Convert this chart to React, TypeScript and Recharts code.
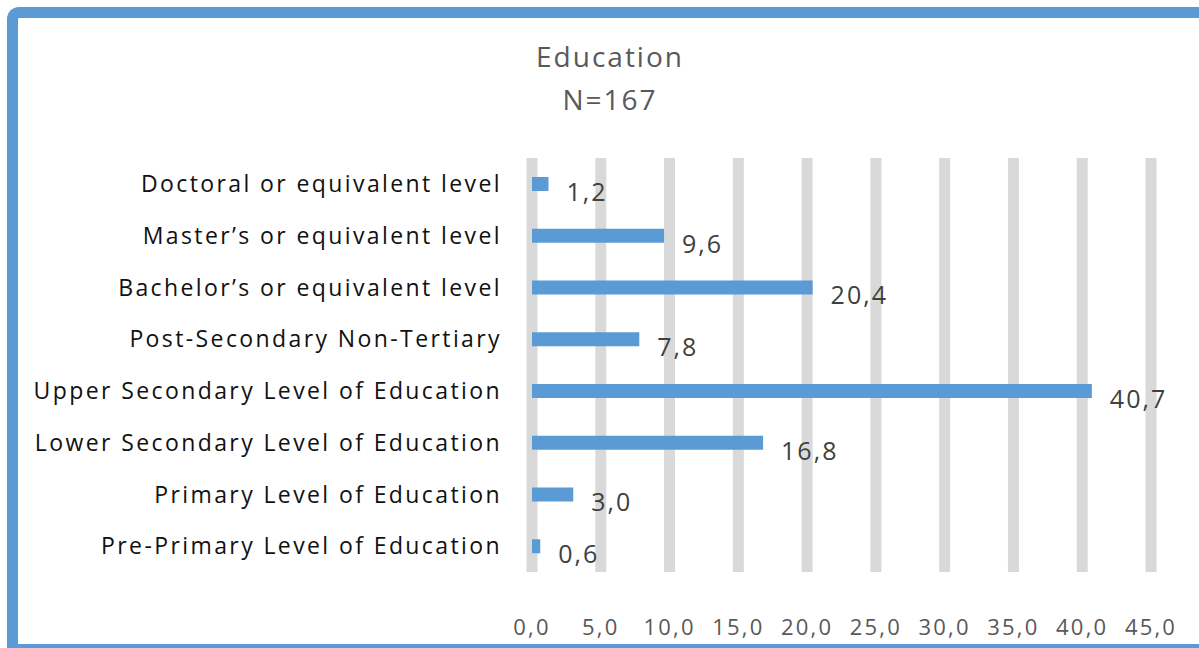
import { BarChart, Bar, XAxis, YAxis, CartesianGrid, LabelList } from 'recharts'

const categories = [
  'Doctoral or equivalent level',
  'Master’s or equivalent level',
  'Bachelor’s or equivalent level',
  'Post-Secondary Non-Tertiary',
  'Upper Secondary Level of Education',
  'Lower Secondary Level of Education',
  'Primary Level of Education',
  'Pre-Primary Level of Education',
]
const percentages = [1.2, 9.6, 20.4, 7.8, 40.7, 16.8, 3.0, 0.6]
const xTicks = [0, 5, 10, 15, 20, 25, 30, 35, 40, 45]

const FONT = '"Open Sans", sans-serif'
const BLUE = '#5B9BD5'

const fmt = (v: number): string => v.toFixed(1).replace('.', ',')

export default function App(): React.JSX.Element {
  const data = categories.map((name, i) => ({ name, value: percentages[i] }))

  return (
    <div style={{ position: 'fixed', left: 0, top: 0, width: 1199, height: 648, overflow: 'hidden', background: '#fff' }}>
      <div
        style={{
          position: 'absolute',
          left: 7,
          top: 7,
          width: 1181,
          height: 626,
          border: `11px solid ${BLUE}`,
          borderRight: 'none',
          borderTopLeftRadius: 12,
          fontFamily: FONT,
        }}
      >
        <div style={{ position: 'absolute', left: 392, width: 400, top: 21, lineHeight: '34px', textAlign: 'center', fontSize: 28, letterSpacing: 2, color: '#595959' }}>
          Education
        </div>
        <div style={{ position: 'absolute', left: 392, width: 400, top: 64, lineHeight: '34px', textAlign: 'center', fontSize: 28, letterSpacing: 2, color: '#595959' }}>
          N=167
        </div>
        <BarChart
          width={1181}
          height={626}
          data={data}
          layout="vertical"
          margin={{ top: 140, right: 48, bottom: 0, left: 0 }}
          barCategoryGap={0}
        >
          <CartesianGrid horizontal={false} stroke="#D9D9D9" strokeWidth={11} />
          <XAxis
            type="number"
            domain={[0, 45]}
            ticks={xTicks}
            height={72}
            axisLine={false}
            tickLine={false}
            tickSize={0}
            tickMargin={47}
            tickFormatter={fmt}
            tick={{ fill: '#595959', fontSize: 22, fontFamily: FONT, letterSpacing: 2.2 }}
            interval={0}
          />
          <YAxis
            type="category"
            dataKey="name"
            width={514}
            axisLine={false}
            tickLine={false}
            tickSize={0}
            tickMargin={30}
            tick={{ fill: '#111111', fontSize: 23, fontFamily: FONT, letterSpacing: 2.4 }}
            interval={0}
          />
          <Bar dataKey="value" fill={BLUE} barSize={14} isAnimationActive={false}>
            <LabelList
              dataKey="value"
              position="right"
              offset={18}
              formatter={(v: number) => fmt(v)}
              style={{ fill: '#404040', fontSize: 25, fontFamily: FONT, letterSpacing: 2 }}
              dy={8}
            />
          </Bar>
        </BarChart>
      </div>
    </div>
  )
}
